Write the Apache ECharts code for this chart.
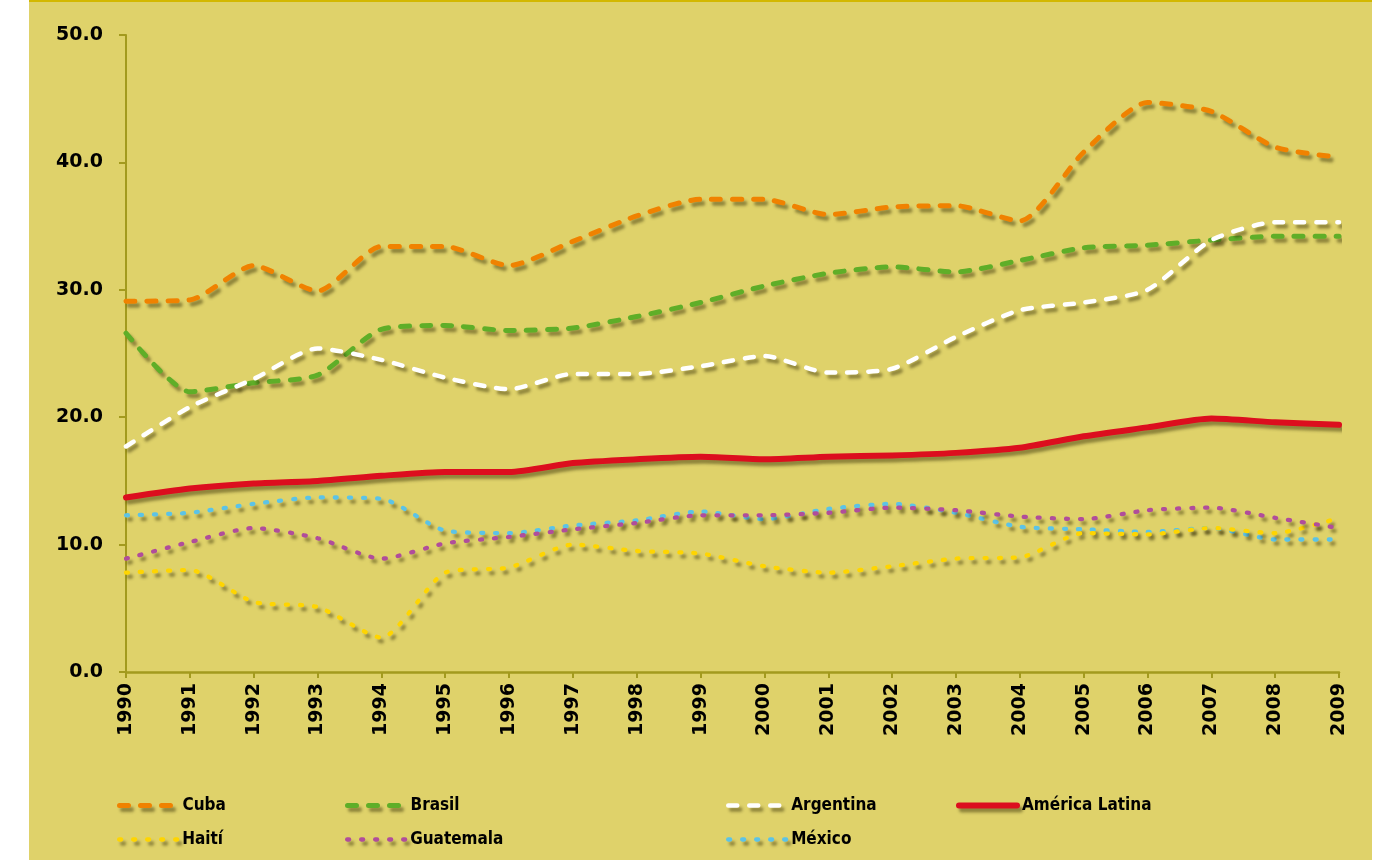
<!DOCTYPE html>
<html>
<head>
<meta charset="utf-8">
<script src="https://cdn.jsdelivr.net/npm/echarts@6/dist/echarts.min.js"></script>
<style>
  html, body { margin: 0; padding: 0; background: #ffffff; }
  #bg { position: absolute; left: 29px; top: 0; width: 1343px; height: 860px;
        background: #DFD26A; border-top: 2px solid #D3B800; box-sizing: border-box; }
  #chart { position: absolute; left: 0; top: 0; width: 1382px; height: 860px; }
</style>
</head>
<body>
<div id="bg"></div>
<div id="chart"></div>
<script>
const years = ['1990','1991','1992','1993','1994','1995','1996','1997','1998','1999',
               '2000','2001','2002','2003','2004','2005','2006','2007','2008','2009'];
const yTicks = [0, 10, 20, 30, 40, 50];

const cuba      = [29.1, 29.2, 31.9, 29.9, 33.4, 33.4, 31.9, 33.8, 35.8, 37.1, 37.1, 35.9, 36.5, 36.6, 35.4, 40.8, 44.7, 44.0, 41.2, 40.4];
const brasil    = [26.6, 22.0, 22.7, 23.3, 26.9, 27.2, 26.8, 27.0, 27.9, 29.0, 30.3, 31.3, 31.8, 31.4, 32.3, 33.3, 33.5, 33.9, 34.2, 34.2];
const argentina = [17.7, 20.8, 23.0, 25.4, 24.5, 23.1, 22.2, 23.4, 23.4, 24.0, 24.8, 23.5, 23.8, 26.3, 28.4, 29.0, 30.0, 33.9, 35.3, 35.3];
const americaLatina = [13.7, 14.4, 14.8, 15.0, 15.4, 15.7, 15.7, 16.4, 16.7, 16.9, 16.7, 16.9, 17.0, 17.2, 17.6, 18.5, 19.2, 19.9, 19.6, 19.4];
const haiti     = [7.8, 8.0, 5.5, 5.1, 2.7, 7.8, 8.2, 10.0, 9.5, 9.3, 8.3, 7.8, 8.3, 8.9, 9.0, 10.9, 10.8, 11.3, 10.9, 12.1];
const guatemala = [8.9, 10.2, 11.3, 10.5, 8.9, 10.1, 10.6, 11.2, 11.7, 12.3, 12.3, 12.5, 12.9, 12.7, 12.2, 12.0, 12.7, 12.9, 12.1, 11.3];
const mexico    = [12.3, 12.5, 13.2, 13.7, 13.6, 11.1, 10.9, 11.5, 11.9, 12.6, 12.0, 12.8, 13.2, 12.5, 11.4, 11.2, 11.0, 11.3, 10.4, 10.4];

const seriesNames = ['Cuba', 'Brasil', 'Argentina', 'América Latina', 'Haití', 'Guatemala', 'México'];

const axisColor = '#A39A1E';
const labelFont = "'DejaVu Sans', Verdana, sans-serif";
const legendFont = "'DejaVu Sans Condensed', 'DejaVu Sans', sans-serif";

const dashLong = [9, 12];
const dashDot = [2, 12];

const styles = {
  'Cuba':           { color: '#F08200', width: 5,   type: dashLong, z: 5 },
  'Brasil':         { color: '#5FAE28', width: 5,   type: dashLong, z: 5 },
  'Argentina':      { color: '#FFFFFF', width: 4.5, type: dashLong, z: 6 },
  'América Latina': { color: '#DC0E1E', width: 6,   type: 'solid',  z: 4 },
  'Haití':          { color: '#FFD500', width: 4.3, type: dashDot,  z: 3 },
  'Guatemala':      { color: '#B04D9B', width: 4.3, type: dashDot,  z: 3 },
  'México':         { color: '#5CC3E6', width: 4.3, type: dashDot,  z: 2 }
};

function lineStyleOf(name) {
  const s = styles[name];
  return {
    color: s.color, width: s.width, type: s.type, cap: 'round', join: 'round',
    shadowColor: 'rgba(45,38,0,0.45)', shadowBlur: 3, shadowOffsetX: 3, shadowOffsetY: 4
  };
}

function mkSeries(name, data) {
  return {
    name: name, type: 'line', data: data, symbol: 'none', smooth: 0.22, z: styles[name].z,
    lineStyle: lineStyleOf(name),
    itemStyle: { color: styles[name].color },
    emphasis: { disabled: true }
  };
}

const series = [
  mkSeries('Cuba', cuba),
  mkSeries('Brasil', brasil),
  mkSeries('Argentina', argentina),
  mkSeries('América Latina', americaLatina),
  mkSeries('Haití', haiti),
  mkSeries('Guatemala', guatemala),
  mkSeries('México', mexico)
];

function mkLegend(name, left, top) {
  return {
    data: [name], left: left, top: top, orient: 'horizontal',
    itemWidth: 58, itemHeight: 12, itemGap: 0, padding: 0,
    selectedMode: false,
    itemStyle: { opacity: 0 },
    lineStyle: lineStyleOf(name),
    textStyle: { fontFamily: legendFont, fontWeight: 'bold', fontSize: 17, color: '#000' }
  };
}

const chart = echarts.init(document.getElementById('chart'), null, { renderer: 'canvas' });
chart.setOption({
  backgroundColor: 'transparent',
  animation: false,
  grid: { left: 126, right: 43, top: 35, bottom: 188, containLabel: false },
  xAxis: {
    type: 'category', data: years, boundaryGap: false,
    axisLine: { lineStyle: { color: axisColor, width: 2.5 } },
    axisTick: { show: true, length: 6, lineStyle: { color: axisColor, width: 2 } },
    axisLabel: { rotate: 90, margin: 11, fontFamily: labelFont, fontWeight: 'bold', fontSize: 19, color: '#000', interval: 0 },
    splitLine: { show: false }
  },
  yAxis: {
    type: 'value', min: yTicks[0], max: yTicks[yTicks.length - 1], interval: yTicks[1] - yTicks[0],
    axisLine: { show: true, lineStyle: { color: axisColor, width: 2 } },
    axisTick: { show: true, length: 7, lineStyle: { color: axisColor, width: 2 } },
    axisLabel: { margin: 23, fontFamily: labelFont, fontWeight: 'bold', fontSize: 19, color: '#000',
                 formatter: v => v.toFixed(1) },
    splitLine: { show: false }
  },
  legend: [
    mkLegend('Cuba', 117, 797),
    mkLegend('Brasil', 345, 797),
    mkLegend('Argentina', 726, 797),
    mkLegend('América Latina', 956, 797),
    mkLegend('Haití', 117, 831),
    mkLegend('Guatemala', 345, 831),
    mkLegend('México', 726, 831)
  ],
  series: series
});
</script>
</body>
</html>
